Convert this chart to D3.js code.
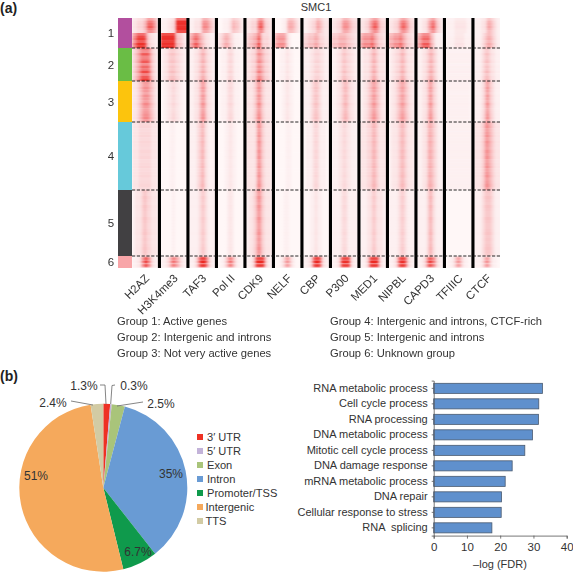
<!DOCTYPE html>
<html><head><meta charset="utf-8">
<script src="https://cdn.jsdelivr.net/npm/d3@7/dist/d3.min.js"></script>
<style>html,body{margin:0;padding:0;background:#fff}svg{display:block}text{font-family:"Liberation Sans",Arial,sans-serif;fill:#333;white-space:pre}</style>
</head><body><svg id="c" width="573" height="572"></svg>
<script>
const marks=["H2AZ","H3K4me3","TAF3","Pol II","CDK9","NELF","CBP","P300","MED1","NIPBL","CAPD3","TFIIIC","CTCF"];
const groupLabels=["1","2","3","4","5","6"];
const groupColors=["#b24f9e","#6abd45","#fcc40d","#66c9da","#414042","#f8a5a8"];
const groupPeaks=[30,33,41,68,66,12];
const groupNotes=["Group 1: Active genes","Group 2: Intergenic and introns","Group 3: Not very active genes","Group 4: Intergenic and introns, CTCF-rich","Group 5: Intergenic and introns","Group 6: Unknown group"];
// per-mark enrichment profiles, 13 bins across each column, 0-9 intensity
const profile1a=["2233345777652","1112233999999","1122236665432","0011123544321","2233367753322","0001125554321","1122335543222","2233466654332","2233567764332","2233467765332","1122356764321","1111222222111","1112235543211"];
const profile1b=["6788887432211","9999999544321","5677654322111","2345543211100","3445577433322","5666642100000","3344455433222","4445555443322","5666676543322","5566676543322","5677775421110","1111222221111","1112345543211"];
const profile2=["3456777764321","1223444332211","1122345432211","0111233211100","2233466543322","0011122110000","1112233322111","1122344332211","1222345432221","1223345432221","1122345432111","1111111111111","1112344322111"];
const profile3=["2234566654321","0112233221100","1122356532211","0111233211100","2223466432221","0001122110000","1112344321111","1122345432211","1223456543221","1223456543221","1122356432111","1111111111110","1112356432111"];
const profile4=["2223333332221","0000111000000","1112345321111","0001122110000","2222366432221","0000011100000","0111233211100","1112233221110","2223345432222","1222345432221","1122355432111","1111111111111","2223466543222"];
const profile5=["1222344332221","0000011000000","1111234321111","0000122100000","1223466432221","0000111000000","0001122110000","1111233211111","1112234322211","1111234321111","1111245321111","0000000000000","1112344432111"];
const profile6=["1122679763211","1123577653211","1124799974211","0113577531100","1124899984211","0012466421000","1123799973211","1123899983211","1124899984211","1123799973211","1123688763211","0112466421100","1112466421100"];
const profiles=[profile1a,profile1b,profile2,profile3,profile4,profile5,profile6];
const profilePeaks=[15,15,33,41,68,66,12];
// row-by-row strength
const streak1a=[.8,1,1.05,1.1,1,.9];
const streak1b=[.9,1,1.05,.95,1.1,1.05];
const streak2=[1,.9,1.1,.95,1,1.1,.9,1.05,1,1.15,.95,1.1,1.2];
const streak3=[1,.95,1.05,1,.9,1.05,1,.95,1.1,1,.95,1,1.05,1.1,1];
const streak4=[1,1.05,.95,1,1.05,.95,1.05,1,.95,1.05,1,1.05,.95,1,1.05,.95,1,1.05,.95,1,1.05,.95];
const streak5=[1,.95,1.05,1,.95,1.05,1,.95,.95,1.05,1,.95,.95,1,1.05,.95,1,.95,1,1.05,1,.95];
const streak6=[.55,.9,1.05,.8,1.05,1,.75,1.05,.95,.55];
const streaks=[streak1a,streak1b,streak2,streak3,streak4,streak5,streak6];
const heatStops=[0,1,2,3,4,5,6,7,8,9];
const heatColors=["#fff7f7","#fdf0f1","#fce5e6","#fbd8da","#f9c7c9","#f8b2b4","#f69a9c","#f47a7a","#ef4a46","#ec2a24"];

const pieLabels=["3′ UTR","5′ UTR","Exon","Intron","Promoter/TSS","Intergenic","TTS"];
const pieValues=[1.3,0.3,2.5,35,6.7,51,2.4];
const pieColors=["#ee3124","#c3b3d9","#a9c47a","#699bd4","#0f9a4c","#f5a95c","#d2cba4"];
const pieText=["1.3%","0.3%","2.5%","35%","6.7%","51%","2.4%"];

const terms=["RNA metabolic process","Cell cycle process","RNA processing","DNA metabolic process","Mitotic cell cycle process","DNA damage response","mRNA metabolic process","DNA repair","Cellular response to stress","RNA  splicing"];
const fdr=[32.7,31.6,31.5,29.7,27.4,23.6,21.5,20.4,20.3,17.5];
const fdrTicks=[0,10,20,30,40];

const svg=d3.select("#c");
const defs=svg.append("defs");
defs.append("filter").attr("id","soft").attr("x",120).attr("y",10).attr("width",390).attr("height",265)
  .attr("filterUnits","userSpaceOnUse").append("feGaussianBlur").attr("stdDeviation","1.0 0.5");

const T=(x,y,s,size,anchor)=>svg.append("text").attr("x",x).attr("y",y).attr("font-size",size).attr("text-anchor",anchor||"start").text(s);
T(0,13,"(a)",14).attr("font-weight","bold").style("fill","#222");
T(0,381,"(b)",14).attr("font-weight","bold").style("fill","#222");
T(316,11,"SMC1",11,"middle");

// heat map
const y=d3.scaleLinear().domain([0,d3.sum(groupPeaks)]).range([18,268]);
const x=d3.scaleBand().domain(marks).range([132,502.5]);
const bin=d3.scaleBand().domain(d3.range(13)).range([1,27]);
const heat=d3.scaleLinear().domain(heatStops).range(heatColors).clamp(true);
const gH=svg.append("g").attr("filter","url(#soft)");
let acc=0;
profiles.forEach((prof,pi)=>{
  const rows=d3.scaleBand().domain(d3.range(streaks[pi].length)).range([y(acc),y(acc+profilePeaks[pi])]);
  acc+=profilePeaks[pi];
  marks.forEach((m,mi)=>{
    const g=gH.append("g").attr("transform",`translate(${x(m)},0)`);
    const cells=[];
    streaks[pi].forEach((s,r)=>{prof[mi].split("").forEach((d,b)=>cells.push({r,b,v:+d*s}));});
    g.selectAll("rect").data(cells).join("rect")
      .attr("x",d=>d.b?bin(d.b):0).attr("y",d=>rows(d.r)).attr("width",d=>bin.bandwidth()+(d.b?.3:1.3)).attr("height",rows.bandwidth()+.3)
      .attr("fill",d=>heat(d.v));
  });
});
svg.append("g").selectAll("rect").data(marks.slice(0,-1)).join("rect")
  .attr("x",d=>x(d)+25.9).attr("y",18).attr("width",3.1).attr("height",250).attr("fill","#000");
// cover the soft edge of the blur
svg.append("rect").attr("x",500).attr("y",10).attr("width",8).attr("height",265).attr("fill","#fff");
svg.append("rect").attr("x",120).attr("y",268).attr("width",390).attr("height",6).attr("fill","#fff");
svg.append("rect").attr("x",120).attr("y",12).attr("width",390).attr("height",6).attr("fill","#fff");
// sidebar
let c0=0;
groupPeaks.forEach((p,i)=>{
  svg.append("rect").attr("x",118).attr("y",y(c0)).attr("width",14).attr("height",y(c0+p)-y(c0)).attr("fill",groupColors[i]);
  T(111,(y(c0)+y(c0+p))/2+4,groupLabels[i],11.5,"middle");
  c0+=p;
  if(i<5) svg.append("line").attr("x1",132).attr("x2",500).attr("y1",y(c0)).attr("y2",y(c0)).attr("stroke","#111").attr("stroke-width",.9).attr("stroke-dasharray","3.2 1.6");
});
marks.forEach(m=>{
  const cx=x(m)+13+5, cy=279;
  svg.append("text").attr("transform",`translate(${cx},${cy}) rotate(-45)`).attr("text-anchor","end").attr("font-size",11.5).text(m);
});
groupNotes.forEach((s,i)=>{
  T(i<3?117:330,325+(i%3)*16,s,11.2);
});

// pie
const pieG=svg.append("g").attr("transform","translate(103.3,487.7)");
const arc=d3.arc().innerRadius(0).outerRadius(84);
const arcs=d3.pie().sort(null)(pieValues);
pieG.selectAll("path").data(arcs).join("path").attr("d",arc).attr("fill",(d,i)=>pieColors[i]);
const pieLabelAt=[[84,390],[134,390],[161,408],[171,478],[138,556],[36,480],[53,407]];
pieText.forEach((s,i)=>T(pieLabelAt[i][0],pieLabelAt[i][1],s,12,"middle"));
const leaders=[[[100,385],[105,385],[106,404]],[[115,385],[112,385.5],[110.7,404]],[[143,402],[117,406]],[[71,401],[93,405]]];
leaders.forEach(l=>svg.append("path").attr("d",d3.line()(l)).attr("fill","none").attr("stroke","#666").attr("stroke-width",.8));
const legend=d3.scaleBand().domain(pieLabels).range([430,528]);
pieLabels.forEach((s,i)=>{
  svg.append("rect").attr("x",197).attr("y",legend(s)+4).attr("width",6).attr("height",6).attr("fill",pieColors[i]);
  T(i<5?207:205.5,legend(s)+11,s,11.1);
});

// bars
const bx=d3.scaleLinear().domain([0,40]).range([433.7,566.7]);
const by=d3.scaleBand().domain(terms).range([380.6,535.6]).paddingInner(.35).paddingOuter(.175);
svg.append("g").selectAll("rect").data(terms).join("rect")
  .attr("x",bx(0)).attr("y",d=>by(d)).attr("width",(d,i)=>bx(fdr[i])-bx(0)).attr("height",by.bandwidth())
  .attr("fill","#5f90cd").attr("stroke","#4a5a70").attr("stroke-width",.8);
const axL=svg.append("g").attr("transform","translate(433.7,0)").call(d3.axisLeft(by).tickSize(2).tickPadding(4));
axL.selectAll("text").attr("font-size",11).attr("font-family",null);
const axB=svg.append("g").attr("transform","translate(0,535.6)").call(d3.axisBottom(bx).tickValues(fdrTicks).tickSize(3).tickPadding(4).tickFormat(d3.format("d")));
axB.selectAll("text").attr("font-size",11.5).attr("font-family",null);
svg.selectAll(".domain,.tick line").attr("stroke","#555").attr("stroke-width",.8);
T(500,568,"–log (FDR)",11,"middle");
</script></body></html>
